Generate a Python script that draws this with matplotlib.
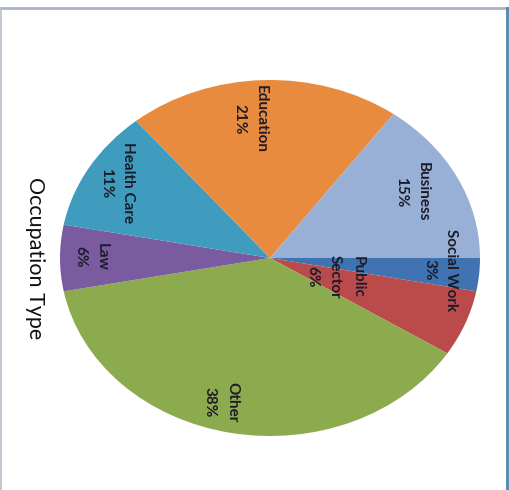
import matplotlib
matplotlib.use("Agg")
import matplotlib.pyplot as plt
from matplotlib.lines import Line2D

categories = ["Social Work", "Public\nSector", "Other", "Law", "Health Care", "Education", "Business"]
values = [3, 6, 38, 6, 11, 21, 15]
colors = ["#3f73b2", "#bb4b4b", "#8cab4f", "#7b5b9f", "#3f9cbf", "#e98b3e", "#98afd6"]
# label centres in the pie's normalised frame (layout only)
label_xy = [(0.81, -0.067), (0.31, -0.107), (-0.233, -0.809), (-0.852, 0.006),
            (-0.729, 0.421), (-0.095, 0.781), (0.676, 0.371)]
title = "Occupation Type"

W, H = 510, 490
fig = plt.figure(figsize=(W / 100, H / 100), dpi=100)
fig.patch.set_facecolor("white")

cx, cy, rx, ry = 270, 258, 210, 178
ax = fig.add_axes([(cx - rx) / W, (H - cy - ry) / H, 2 * rx / W, 2 * ry / H])
wedges, _ = ax.pie(values, colors=colors, startangle=0, counterclock=False,
                   radius=1, wedgeprops=dict(linewidth=0))
ax.set_aspect("auto")
ax.set_xlim(-1, 1)
ax.set_ylim(-1, 1)
ax.axis("off")

total = sum(values)
for cat, v, (lx, ly) in zip(categories, values, label_xy):
    pct = round(100 * v / total)
    ax.text(lx, ly, f"{cat}\n{pct}%", rotation=-90,
            ha="center", va="center", fontsize=11, fontweight="bold",
            family="Lato", color="#1c1c28", linespacing=1.75,
            rotation_mode="anchor")

fig.text(35 / W, 1 - 258 / H, title, rotation=-90, ha="center", va="center",
         fontsize=15.5, family="Lato", color="#111111")

# frame lines
fig.add_artist(Line2D([0, 507 / W], [1 - 8 / H, 1 - 8 / H], transform=fig.transFigure,
                      color="#a9b5c3", lw=2))
fig.add_artist(Line2D([507.5 / W, 507.5 / W], [1 - 8 / H, 0], transform=fig.transFigure,
                      color="#4f86b3", lw=2))
fig.add_artist(Line2D([0.8 / W, 0.8 / W], [1 - 8 / H, 0], transform=fig.transFigure,
                      color="#b5c0cc", lw=1.2))

fig.savefig("out.png", dpi=100, facecolor="white")
